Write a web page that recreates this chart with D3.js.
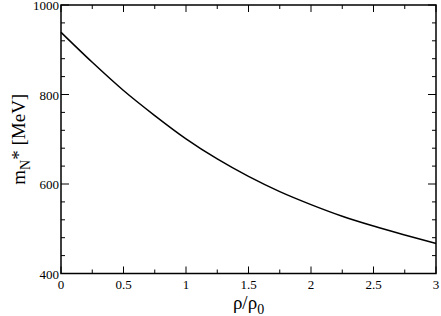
<!DOCTYPE html>
<html><head><meta charset="utf-8">
<script src="https://cdn.jsdelivr.net/npm/d3@7"></script>
<style>body{margin:0;background:#fff}svg{display:block}
text{font-family:"Liberation Serif","DejaVu Serif","Times New Roman",Times,serif;}</style>
</head><body>
<svg id="c" width="441" height="316"></svg>
<script>
const rho = [0, 0.25, 0.5, 0.75, 1.0, 1.25, 1.5, 1.75, 2.0, 2.25, 2.5, 2.75, 3.0];
const mass = [939, 872, 809, 753, 701, 656, 617, 583, 554, 528, 506, 486, 467];
const xTicks = [0, 0.5, 1, 1.5, 2, 2.5, 3];
const xTickLabels = ["0", "0.5", "1", "1.5", "2", "2.5", "3"];
const yTicks = [400, 600, 800, 1000];
const yTickLabels = ["400", "600", "800", "1000"];

const svg = d3.select("#c");
const L = 61, R = 436, T = 5, B = 273.5;
const x = d3.scaleLinear().domain([0, 3]).range([L, R]);
const y = d3.scaleLinear().domain([400, 1000]).range([B, T]);

const xMinor = d3.range(0, 3.0001, 0.25).filter(v => Math.abs(v*2 - Math.round(v*2)) > 1e-6);
const yMinor = d3.range(400, 1000.001, 40).filter(v => v % 200 !== 0);

const g = svg.append("g");
function tick(x1,y1,x2,y2){ g.append("line").attr("x1",x1).attr("y1",y1).attr("x2",x2).attr("y2",y2).attr("stroke","#000").attr("stroke-width",1); }
xTicks.forEach(v => { tick(x(v),B,x(v),B-7); tick(x(v),T,x(v),T+7); });
xMinor.forEach(v => { tick(x(v),B,x(v),B-4); tick(x(v),T,x(v),T+4); });
yTicks.forEach(v => { tick(L,y(v),L+8,y(v)); tick(R,y(v),R-8,y(v)); });
yMinor.forEach(v => { tick(L,y(v),L+4,y(v)); tick(R,y(v),R-4,y(v)); });

g.append("rect").attr("x",L).attr("y",T).attr("width",R-L).attr("height",B-T)
  .attr("fill","none").attr("stroke","#000").attr("stroke-width",1.5);

xTicks.forEach((v,i) => {
  g.append("text").attr("x",x(v)).attr("y",B+15).attr("text-anchor","middle")
   .style("font-size","13px").text(xTickLabels[i]);
});
yTicks.forEach((v,i) => {
  g.append("text").attr("x",L-2).attr("y",y(v)+5).attr("text-anchor","end")
   .style("font-size","13px").text(yTickLabels[i]);
});

const data = rho.map((r,i)=>[r, mass[i]]);
g.append("path").datum(data)
  .attr("d", d3.line().x(d=>x(d[0])).y(d=>y(d[1])).curve(d3.curveMonotoneX))
  .attr("fill","none").attr("stroke","#000").attr("stroke-width",1.5);

const xt = g.append("text").attr("x",(L+R)/2).attr("y",309).attr("text-anchor","middle")
  .style("font-size","19px");
xt.append("tspan").text("ρ/ρ");
xt.append("tspan").style("font-size","14px").attr("dy",5).text("0");

const yt = g.append("text").attr("transform",`translate(25,${(T+B)/2}) rotate(-90)`)
  .attr("text-anchor","middle").style("font-size","19px");
yt.append("tspan").text("m");
yt.append("tspan").style("font-size","14px").attr("dy",5).text("N");
yt.append("tspan").attr("dy",-5).text("* [MeV]");
</script>
</body></html>
